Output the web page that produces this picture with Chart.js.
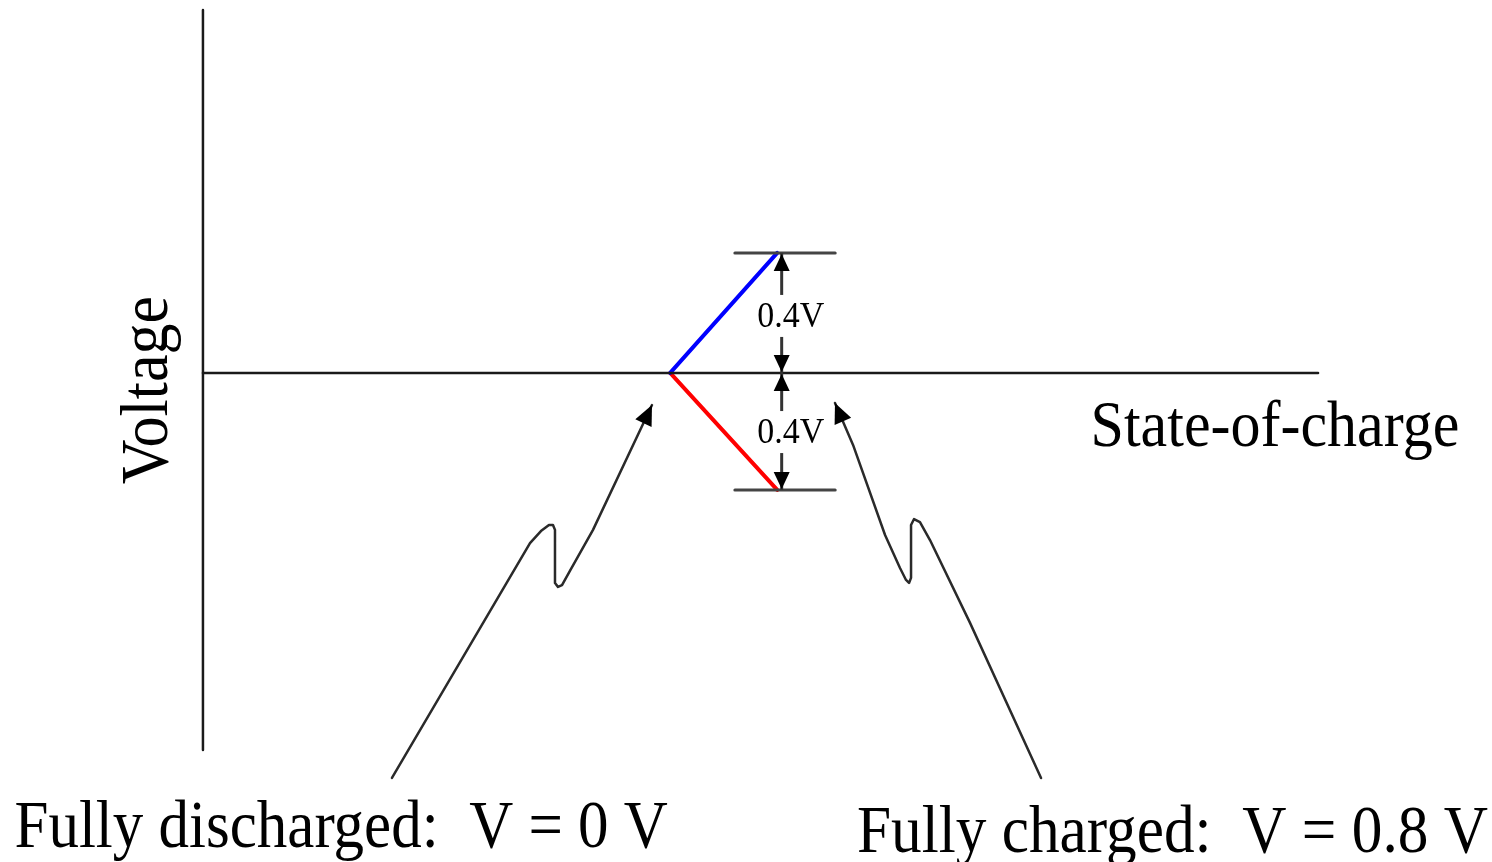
<!DOCTYPE html>
<html>
<head>
<meta charset="utf-8">
<script src="https://cdn.jsdelivr.net/npm/chart.js@4"></script>
<style>
  html, body { margin: 0; padding: 0; background: #fff; }
  #wrap { width: 1492px; height: 862px; }
</style>
</head>
<body>
<div id="wrap"><canvas id="chart"></canvas></div>
<script>
// state of charge in % (x), voltage in V (y)
const socRange = [-18.2, 115.6];
const voltRange = [-1.63, 1.243];

const voltageAxis = [{ x: 0, y: 1.21 }, { x: 0, y: -1.257 }];
const socAxis = [{ x: 0, y: 0 }, { x: 100, y: 0 }];

const chargeLine = [{ x: 41.9, y: 0 }, { x: 51.5, y: 0.4 }];
const dischargeLine = [{ x: 41.9, y: 0 }, { x: 51.5, y: -0.39 }];

const upperLimit = [{ x: 47.7, y: 0.4 }, { x: 56.7, y: 0.4 }];
const lowerLimit = [{ x: 47.7, y: -0.39 }, { x: 56.7, y: -0.39 }];

// double headed dimension arrows
const dimX = 51.9;
const dimArrows = [[0.4, 0], [0, -0.39]];
const dimLabels = ["0.4V", "0.4V"];
const dimLabelY = [0.19, -0.197];

// the wiggly pointer arrows (label end first for discharged, tip first for charged)
const dischargedPointer = [
  { x: 16.95, y: -1.35 }, { x: 29.33, y: -0.567 }, { x: 30.31, y: -0.527 },
  { x: 31.03, y: -0.507 }, { x: 31.39, y: -0.507 }, { x: 31.57, y: -0.523 },
  { x: 31.57, y: -0.7 }, { x: 31.84, y: -0.713 }, { x: 32.2, y: -0.707 },
  { x: 32.91, y: -0.66 }, { x: 34.98, y: -0.523 }, { x: 40.27, y: -0.107 }
];
const chargedPointer = [
  { x: 56.68, y: -0.1 }, { x: 58.3, y: -0.24 }, { x: 61.17, y: -0.54 },
  { x: 62.51, y: -0.65 }, { x: 63.05, y: -0.69 }, { x: 63.32, y: -0.7 },
  { x: 63.5, y: -0.683 }, { x: 63.5, y: -0.507 }, { x: 63.77, y: -0.487 },
  { x: 64.3, y: -0.497 }, { x: 65.2, y: -0.557 }, { x: 68.79, y: -0.833 },
  { x: 75.16, y: -1.35 }
];

const labels = [
  { text: "State-of-charge", x: 79.6, y: -0.243, size: 60, stretch: 1.08 },
  { text: "Voltage", x: -3.2, y: -0.057, size: 62, stretch: 1.1, rotate: true },
  { text: "Fully discharged:  V = 0 V", x: -16.9, y: -1.58, size: 61, stretch: 1.1 },
  { text: "Fully charged:  V = 0.8 V", x: 58.65, y: -1.597, size: 61.3, stretch: 1.1 }
];

function line(data, color, width) {
  return {
    data: data, borderColor: color, borderWidth: width, showLine: true,
    pointRadius: 0, fill: false, tension: 0,
    borderCapStyle: "round", borderJoinStyle: "round"
  };
}

function arrowHead(ctx, x1, y1, x2, y2, len, half) {
  const a = Math.atan2(y2 - y1, x2 - x1);
  ctx.beginPath();
  ctx.moveTo(x2, y2);
  ctx.lineTo(x2 - len * Math.cos(a) + half * Math.sin(a), y2 - len * Math.sin(a) - half * Math.cos(a));
  ctx.lineTo(x2 - len * Math.cos(a) - half * Math.sin(a), y2 - len * Math.sin(a) + half * Math.cos(a));
  ctx.closePath();
  ctx.fill();
}

const annotate = {
  id: "annotate",
  afterDatasetsDraw(chart) {
    const ctx = chart.ctx;
    const xs = chart.scales.x, ys = chart.scales.y;
    ctx.save();
    ctx.fillStyle = "#000";

    // pointer arrow heads
    const n = dischargedPointer.length;
    [[dischargedPointer[n - 2], dischargedPointer[n - 1]], [chargedPointer[1], chargedPointer[0]]].forEach(function (p) {
      arrowHead(ctx, xs.getPixelForValue(p[0].x), ys.getPixelForValue(p[0].y),
        xs.getPixelForValue(p[1].x), ys.getPixelForValue(p[1].y), 20, 9);
    });

    // dimension arrows with labels
    const px = xs.getPixelForValue(dimX);
    dimArrows.forEach(function (d, i) {
      const y1 = ys.getPixelForValue(d[0]), y2 = ys.getPixelForValue(d[1]);
      ctx.strokeStyle = "#333";
      ctx.lineWidth = 3;
      ctx.beginPath();
      ctx.moveTo(px, y1);
      ctx.lineTo(px, y2);
      ctx.stroke();
      ctx.fillStyle = "#000";
      arrowHead(ctx, px, y2, px, y1 + 1, 17, 8);
      arrowHead(ctx, px, y1, px, y2 - 1, 17, 8);
      const ly = ys.getPixelForValue(dimLabelY[i]);
      ctx.fillStyle = "#fff";
      ctx.fillRect(px - 6, ly - 21, 12, 42);
      ctx.fillStyle = "#000";
      ctx.font = "34px 'Liberation Serif', 'Times New Roman', serif";
      ctx.textAlign = "center";
      ctx.textBaseline = "alphabetic";
      ctx.save();
      ctx.translate(px + 9, ly + 11);
      ctx.scale(1, 1.05);
      ctx.fillText(dimLabels[i], 0, 0);
      ctx.restore();
    });

    // text labels
    labels.forEach(function (l) {
      const x = xs.getPixelForValue(l.x), y = ys.getPixelForValue(l.y);
      ctx.font = l.size + "px 'Liberation Serif', 'Times New Roman', serif";
      ctx.fillStyle = "#000";
      ctx.textBaseline = "alphabetic";
      ctx.save();
      ctx.translate(x, y);
      if (l.rotate) {
        ctx.rotate(-Math.PI / 2);
        ctx.textAlign = "center";
      } else {
        ctx.textAlign = "left";
      }
      ctx.scale(1, l.stretch);
      ctx.fillText(l.text, 0, 0);
      ctx.restore();
    });
    ctx.restore();
  }
};

new Chart(document.getElementById("chart"), {
  type: "scatter",
  data: {
    datasets: [
      line(voltageAxis, "#1a1a1a", 2.5),
      line(socAxis, "#1a1a1a", 2.5),
      line(upperLimit, "#444", 3),
      line(lowerLimit, "#444", 3),
      line(chargeLine, "#0000ff", 4),
      line(dischargeLine, "#ff0000", 4),
      line(dischargedPointer, "#2a2a2a", 2.5),
      line(chargedPointer, "#2a2a2a", 2.5)
    ]
  },
  options: {
    responsive: true,
    maintainAspectRatio: false,
    animation: false,
    layout: { padding: 0 },
    scales: {
      x: { type: "linear", display: false, min: socRange[0], max: socRange[1] },
      y: { type: "linear", display: false, min: voltRange[0], max: voltRange[1] }
    },
    plugins: { legend: { display: false }, tooltip: { enabled: false } }
  },
  plugins: [annotate]
});
</script>
</body>
</html>
